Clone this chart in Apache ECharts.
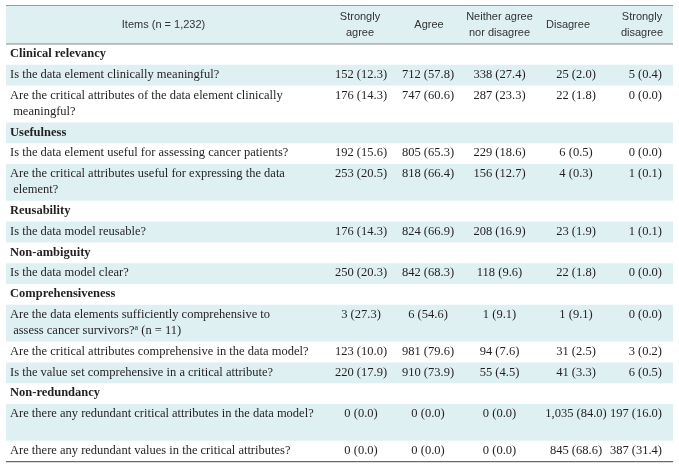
<!DOCTYPE html>
<html><head><meta charset="utf-8">
<script src="https://cdn.jsdelivr.net/npm/echarts@6/dist/echarts.min.js"></script>
<style>html,body{margin:0;padding:0;background:#fff}#c{width:679px;height:467px}</style>
</head><body><div id="c"></div>
<script>
// ---------- data ----------
const itemsHeader = 'Items (n = 1,232)';
const columnHeaders = [['Strongly', 'agree'], ['Agree'], ['Neither agree', 'nor disagree'], ['Disagree'], ['Strongly', 'disagree']];
const sections = ['Clinical relevancy', 'Usefulness', 'Reusability', 'Non-ambiguity', 'Comprehensiveness', 'Non-redundancy'];
const itemSection = [0, 0, 1, 1, 2, 3, 4, 4, 4, 5, 5];
const itemLines = [
  ['Is the data element clinically meaningful?'],
  ['Are the critical attributes of the data element clinically', ' meaningful?'],
  ['Is the data element useful for assessing cancer patients?'],
  ['Are the critical attributes useful for expressing the data', ' element?'],
  ['Is the data model reusable?'],
  ['Is the data model clear?'],
  ['Are the data elements sufficiently comprehensive to', ' assess cancer survivors?{sup|a} (n = 11)'],
  ['Are the critical attributes comprehensive in the data model?'],
  ['Is the value set comprehensive in a critical attribute?'],
  ['Are there any redundant critical attributes in the data model?'],
  ['Are there any redundant values in the critical attributes?']
];
const itemRowLines = [1, 2, 1, 2, 1, 1, 2, 1, 1, 2, 1];
const stronglyAgreeN   = [152, 176, 192, 253, 176, 250, 3, 123, 220, 0, 0];
const stronglyAgreePct = [12.3, 14.3, 15.6, 20.5, 14.3, 20.3, 27.3, 10.0, 17.9, 0.0, 0.0];
const agreeN   = [712, 747, 805, 818, 824, 842, 6, 981, 910, 0, 0];
const agreePct = [57.8, 60.6, 65.3, 66.4, 66.9, 68.3, 54.6, 79.6, 73.9, 0.0, 0.0];
const neitherN   = [338, 287, 229, 156, 208, 118, 1, 94, 55, 0, 0];
const neitherPct = [27.4, 23.3, 18.6, 12.7, 16.9, 9.6, 9.1, 7.6, 4.5, 0.0, 0.0];
const disagreeN   = [25, 22, 6, 4, 23, 22, 1, 31, 41, 1035, 845];
const disagreePct = [2.0, 1.8, 0.5, 0.3, 1.9, 1.8, 9.1, 2.5, 3.3, 84.0, 68.6];
const stronglyDisagreeN   = [5, 0, 0, 1, 1, 0, 0, 3, 6, 197, 387];
const stronglyDisagreePct = [0.4, 0.0, 0.0, 0.1, 0.1, 0.0, 0.0, 0.2, 0.5, 16.0, 31.4];

// ---------- layout / style ----------
const TABLE_W = 667;
const HEADER_H = 39, ROW_H = 20.8, LINE_H = 16;
const SHADE = '#dff0f3';
const TEXT = '#231f20';
const SERIF = '"Liberation Serif", "Times New Roman", serif';
const SANS = '"Liberation Sans", Arial, sans-serif';
const ITEM_X = 4;
const COL_X = [355, 422, 493.5, 570, 656];
const COL_HX = [354, 423, 493.5, 562, 636];
const COL_ALIGN = ['center', 'center', 'center', 'center', 'right'];

const colN = [stronglyAgreeN, agreeN, neitherN, disagreeN, stronglyDisagreeN];
const colPct = [stronglyAgreePct, agreePct, neitherPct, disagreePct, stronglyDisagreePct];
const fmtN = n => n.toLocaleString('en-US');
const cell = (c, i) => fmtN(colN[c][i]) + ' (' + colPct[c][i].toFixed(1) + ')';

// build rows
const rows = [{ type: 'header', lines: 2 }];
let lastSec = -1;
itemLines.forEach((lines, i) => {
  if (itemSection[i] !== lastSec) {
    lastSec = itemSection[i];
    rows.push({ type: 'section', label: sections[lastSec], lines: 1 });
  }
  rows.push({ type: 'item', idx: i, lines: itemRowLines[i] });
});
let y = 0;
const rowData = rows.map((r, k) => {
  const h = r.type === 'header' ? HEADER_H : ROW_H + (r.lines - 1) * LINE_H;
  const d = [k, y, y + h];
  y += h;
  return d;
});
const TOTAL_H = y;

function txt(x, y, text, opts) {
  return {
    type: 'text',
    style: Object.assign({
      x: x, y: y, text: text, fill: TEXT, font: '12.5px ' + SERIF,
      align: 'left', verticalAlign: 'middle',
      rich: { sup: { fontSize: 8, fontFamily: SERIF, verticalAlign: 'top', padding: [0, 0, 6, 0], fill: TEXT } }
    }, opts || {})
  };
}

function renderItem(params, api) {
  const k = api.value(0);
  const r = rows[k];
  const top = api.value(1), bot = api.value(2);
  const p0 = api.coord([0, top]);
  const p1 = api.coord([TABLE_W, bot]);
  const children = [];
  const shaded = r.type === 'header' || k % 2 === 0;
  if (shaded) children.push({ type: 'rect', shape: { x: p0[0], y: p0[1], width: p1[0] - p0[0], height: p1[1] - p0[1] }, style: { fill: SHADE } });
  const X = v => api.coord([v, top])[0];
  if (r.type === 'header') {
    const cy = (p0[1] + p1[1]) / 2;
    children.push(txt(X(157.5), cy, itemsHeader, { align: 'center', font: '11px ' + SANS, fill: '#333' }));
    columnHeaders.forEach((lines, c) => {
      lines.forEach((s, j) => {
        const yy = cy + (j - (lines.length - 1) / 2) * LINE_H;
        children.push(txt(X(COL_HX[c]), yy, s, { align: 'center', font: '11px ' + SANS, fill: '#333' }));
      });
    });
    children.push({ type: 'line', shape: { x1: p0[0], y1: p0[1] + 0.5, x2: p1[0], y2: p0[1] + 0.5 }, style: { stroke: '#9a9a9a', lineWidth: 1 } });
    children.push({ type: 'line', shape: { x1: p0[0], y1: p1[1], x2: p1[0], y2: p1[1] }, style: { stroke: '#8a8a8a', lineWidth: 1.2 } });
  } else if (r.type === 'section') {
    const cy = (p0[1] + p1[1]) / 2 - 0.5;
    children.push(txt(X(ITEM_X), cy, r.label, { font: 'bold 12.5px ' + SERIF }));
  } else {
    const i = r.idx;
    const firstY = p0[1] + ROW_H / 2 - 0.5;
    itemLines[i].forEach((s, j) => {
      children.push(txt(X(ITEM_X), firstY + j * LINE_H, s));
    });
    for (let c = 0; c < 5; c++) {
      children.push(txt(X(COL_X[c]), firstY, cell(c, i), { align: COL_ALIGN[c] }));
    }
    if (k === rows.length - 1) {
      children.push({ type: 'line', shape: { x1: p0[0], y1: p1[1], x2: p1[0], y2: p1[1] }, style: { stroke: '#6a6a6a', lineWidth: 1.2 } });
    }
  }
  return { type: 'group', children: children };
}

const chart = echarts.init(document.getElementById('c'), null, { renderer: 'canvas' });
chart.setOption({
  animation: false,
  grid: { left: 6, right: 6, top: 5, bottom: 467 - 5 - TOTAL_H },
  xAxis: { type: 'value', min: 0, max: TABLE_W, show: false },
  yAxis: { type: 'value', min: 0, max: TOTAL_H, inverse: true, show: false },
  series: [{
    type: 'custom',
    renderItem: renderItem,
    data: rowData,
    clip: false
  }]
});
</script>
</body></html>
